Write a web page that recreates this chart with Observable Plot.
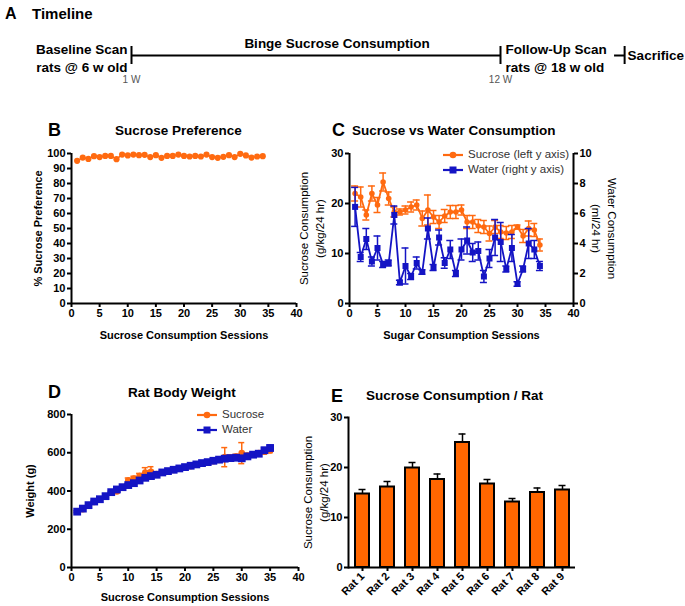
<!DOCTYPE html>
<html><head><meta charset="utf-8">
<script src="https://cdn.jsdelivr.net/npm/d3@7"></script>
<script src="https://cdn.jsdelivr.net/npm/@observablehq/plot@0.6"></script>
<style>
body{margin:0;background:#fff;}
#root{position:relative;width:685px;height:606px;font-family:"Liberation Sans",Arial,sans-serif;overflow:hidden;background:#fff;}
.abs{position:absolute;line-height:1;white-space:nowrap;color:#000;}
.bold{font-weight:bold;}
.legend{display:flex;align-items:center;font-size:11.5px;color:#333;}
.legend svg{margin-right:5px;}
</style></head><body><div id="root"></div>
<script>
// ---------- DATA ----------
const timelineEvents = ["Baseline Scan\nrats @ 6 w old", "Follow-Up Scan\nrats @ 18 w old", "Sacrifice"];
const timelineWeeks = [1, 12, 15.7];
const timelineSegStart = [1, 15.4];
const timelineSegEnd = [12, 15.7];
const weekLabels = ["1 W", "12 W"];
const weekLabelWeeks = [1, 12];

const sessionTicks = [0, 5, 10, 15, 20, 25, 30, 35, 40];
const prefTicks = [0, 10, 20, 30, 40, 50, 60, 70, 80, 90, 100];
const sucroseTicks = [0, 10, 20, 30];
const waterTicks = [0, 2, 4, 6, 8, 10];
const weightTicks = [0, 200, 400, 600, 800];

const sessions34 = [1,2,3,4,5,6,7,8,9,10,11,12,13,14,15,16,17,18,19,20,21,22,23,24,25,26,27,28,29,30,31,32,33,34];
const sessions35 = [1,2,3,4,5,6,7,8,9,10,11,12,13,14,15,16,17,18,19,20,21,22,23,24,25,26,27,28,29,30,31,32,33,34,35];

// B: % sucrose preference
const prefValues = [95.1,97.3,96.4,98.2,97.6,98.4,98.4,96.2,99.3,98.7,99.3,98.9,99.1,97.6,98.9,97.1,98.4,98.4,99.3,98.4,98.0,98.4,98.0,99.3,97.6,97.1,97.8,98.9,97.6,99.8,98.7,97.3,98.0,98.2];

// C: sucrose (g/kg/24hr, left) and water (ml/24hr, right)
const sucroseMean = [22.0,21.3,17.7,22.0,19.7,24.3,21.0,18.3,18.3,18.7,19.3,19.7,17.0,18.7,17.3,16.3,17.5,18.3,18.3,18.7,16.3,16.3,15.5,15.3,14.0,15.3,14.3,14.1,14.3,15.3,13.5,15.0,14.7,11.7];
const sucroseSem = [1.5,2.0,1.0,1.5,1.5,1.8,1.3,1.0,0.6,0.8,1.0,1.0,1.5,3.0,1.3,1.3,1.3,1.3,1.3,1.0,1.3,1.3,1.3,1.3,1.5,1.3,1.3,1.3,1.3,0.4,1.3,1.5,1.3,1.2];
const waterMean = [6.44,3.1,4.3,2.8,3.7,2.6,2.7,5.9,1.4,2.5,1.8,2.7,2.1,5.0,2.4,4.4,2.7,3.6,2.0,3.6,4.2,3.4,3.5,1.8,3.0,4.4,4.1,2.3,3.7,1.3,2.3,4.0,3.6,2.5];
const waterSem = [1.3,0.3,0.7,0.3,0.8,0.2,0.2,0.6,0.15,1.2,0.2,0.4,0.15,0.7,0.2,0.5,0.35,0.6,0.2,0.7,0.9,0.6,0.6,0.4,0.6,1.2,1.3,0.2,0.9,0.15,0.2,1.0,0.6,0.3];

// D: body weight (g)
const sucroseWeight = [292,305,325,343,357,372,392,398,420,455,465,478,497,500,488,498,503,510,516,524,530,537,545,550,556,562,577,575,580,598,585,592,598,605,612];
const sucroseWeightSem = [5,5,5,5,5,6,6,8,8,13,12,14,25,27,8,8,8,8,8,8,8,8,8,10,10,10,50,12,12,55,12,12,12,12,12];
const waterWeight = [292,308,326,345,357,373,394,408,420,431,441,455,469,478,485,497,504,511,518,525,532,539,546,551,558,564,569,572,574,571,581,590,595,613,625];
const waterWeightSem = [5,5,5,5,5,5,5,5,5,6,6,6,6,6,6,6,6,6,6,6,6,6,6,6,6,7,7,7,7,10,8,8,10,14,14];

// E: sucrose consumption per rat
const rats = ["Rat 1","Rat 2","Rat 3","Rat 4","Rat 5","Rat 6","Rat 7","Rat 8","Rat 9"];
const ratMeans = [14.7,16.1,19.9,17.6,25.0,16.7,13.1,15.0,15.5];
const ratSem = [0.9,1.1,1.1,1.1,1.7,0.9,0.7,0.9,0.9];

// ---------- STYLE ----------
const ORANGE = "#ff6a10";
const BAR = "#ff6600";
const BLUE = "#1414c4";
const FONT = "'Liberation Sans', Arial, sans-serif";
const root = document.getElementById("root");
const baseStyle = {fontFamily: FONT, fontSize: "11px", fontWeight: "bold", color: "#000", background: "transparent", overflow: "visible"};

function place(el, left, top) {
  el.style.position = "absolute";
  el.style.left = left + "px";
  el.style.top = top + "px";
  root.appendChild(el);
  return el;
}
function label(text, left, top, size, bold = true) {
  const d = document.createElement("div");
  d.className = "abs" + (bold ? " bold" : "");
  d.style.fontSize = size + "px";
  d.textContent = text;
  return place(d, left, top);
}
function legendItem(color, symbol, text, left, top) {
  const d = document.createElement("div");
  d.className = "abs legend";
  const mark = symbol === "circle"
    ? `<circle cx="10" cy="6" r="3.3" fill="${color}"/>`
    : `<rect x="6.5" y="2.5" width="7" height="7" fill="${color}"/>`;
  d.innerHTML = `<svg width="20" height="12"><line x1="0" y1="6" x2="20" y2="6" stroke="${color}" stroke-width="2.2"/>${mark}</svg><span>${text}</span>`;
  return place(d, left, top);
}
const axisOpts = {tickSize: 4, tickPadding: 2, strokeWidth: 2, label: null};

// ---------- PANEL A ----------
const tlEvents = timelineEvents.map((t, i) => ({text: t, week: timelineWeeks[i]}));
const tlSegs = timelineSegStart.map((s, i) => ({start: s, end: timelineSegEnd[i]}));
const tlWeeks = weekLabels.map((t, i) => ({text: t, week: weekLabelWeeks[i]}));
const plotA = Plot.plot({
  width: 685, height: 60, marginLeft: 131, marginRight: 185, marginTop: 16, marginBottom: 26,
  style: {...baseStyle, fontSize: "13.5px"},
  x: {domain: [1, 12], axis: null},
  y: {domain: [0, 1], axis: null},
  marks: [
    Plot.ruleY(tlSegs, {x1: "start", x2: "end", y: 0.5, strokeWidth: 2}),
    Plot.tickX(tlEvents, {x: "week", strokeWidth: 2}),
    Plot.text([tlEvents[0]], {x: "week", y: 0.5, text: "text", textAnchor: "end", dx: -4, dy: 2, lineHeight: 1.33}),
    Plot.text([tlEvents[1]], {x: "week", y: 0.5, text: "text", textAnchor: "start", dx: 5, dy: 2, lineHeight: 1.33}),
    Plot.text([tlEvents[2]], {x: "week", y: 0.5, text: "text", textAnchor: "start", dx: 3}),
    Plot.text(["Binge Sucrose Consumption"], {x: 6.5, frameAnchor: "top", dy: -3, dx: 21, lineAnchor: "middle", textAnchor: "middle"}),
    Plot.text(tlWeeks, {x: "week", text: "text", frameAnchor: "bottom", dy: 15, lineAnchor: "middle", fontSize: 10, fontWeight: "normal", fill: "#555"})
  ]
});
place(plotA, 0, 30);
label("A", 5, 6, 16);
label("Timeline", 32, 6, 15);

// ---------- PANEL B ----------
const prefData = sessions34.map((s, i) => ({s, v: prefValues[i]}));
const plotB = Plot.plot({
  width: 310, height: 210, marginLeft: 71, marginRight: 14, marginTop: 13, marginBottom: 47,
  style: baseStyle,
  x: {domain: [0, 40]}, y: {domain: [0, 100]},
  marks: [
    Plot.axisX(sessionTicks, axisOpts),
    Plot.axisY(prefTicks, axisOpts),
    Plot.ruleX([0], {strokeWidth: 2}),
    Plot.ruleY([0], {strokeWidth: 2}),
    Plot.line(prefData, {x: "s", y: "v", stroke: ORANGE, strokeWidth: 1.5}),
    Plot.dot(prefData, {x: "s", y: "v", fill: ORANGE, r: 3.1}),
    Plot.text(["Sucrose Consumption Sessions"], {frameAnchor: "bottom", dy: 32, lineAnchor: "middle", textAnchor: "middle", fontSize: 11}),
    Plot.text(["% Sucrose Preference"], {frameAnchor: "left", dx: -33, rotate: -90, lineAnchor: "middle", textAnchor: "middle", fontSize: 11})
  ]
});
place(plotB, 0, 140);
label("B", 48, 121, 18);
label("Sucrose Preference", 115, 124, 13.5);

// ---------- PANEL C ----------
const cSuc = sessions34.map((s, i) => ({s, v: sucroseMean[i], lo: sucroseMean[i] - sucroseSem[i], hi: sucroseMean[i] + sucroseSem[i]}));
const cWat = sessions34.map((s, i) => ({s, v: waterMean[i], lo: waterMean[i] - waterSem[i], hi: waterMean[i] + waterSem[i]}));
const cGeom = {width: 340, height: 210, marginLeft: 59, marginRight: 57, marginTop: 13, marginBottom: 47};
const errMarks = (data, color, cap) => [
  Plot.ruleX(data, {x: "s", y1: "lo", y2: "hi", stroke: color, strokeWidth: 1.5}),
  Plot.ruleY(data, {y: "hi", x1: "s", x2: "s", insetLeft: -cap, insetRight: -cap, stroke: color, strokeWidth: 1.5}),
  Plot.ruleY(data, {y: "lo", x1: "s", x2: "s", insetLeft: -cap, insetRight: -cap, stroke: color, strokeWidth: 1.5})
];
const plotC = Plot.plot({
  ...cGeom,
  style: baseStyle,
  x: {domain: [0, 40]}, y: {domain: [0, 30]},
  marks: [
    Plot.axisX(sessionTicks, axisOpts),
    Plot.axisY(sucroseTicks, axisOpts),
    Plot.ruleX([0], {strokeWidth: 2}),
    Plot.ruleX([40], {strokeWidth: 2}),
    Plot.ruleY([0], {strokeWidth: 2}),
    ...errMarks(cSuc, ORANGE, 3.5),
    Plot.line(cSuc, {x: "s", y: "v", stroke: ORANGE, strokeWidth: 1.8}),
    Plot.dot(cSuc, {x: "s", y: "v", fill: ORANGE, r: 2.8}),
    Plot.text(["Sugar Consumption Sessions"], {frameAnchor: "bottom", dy: 32, lineAnchor: "middle", textAnchor: "middle", fontSize: 11}),
    Plot.text(["Sucrose Consumption\n(g/kg/24 hr)"], {frameAnchor: "left", dx: -39, rotate: -90, lineAnchor: "middle", textAnchor: "middle", fontSize: 11.5, fontWeight: "normal", lineHeight: 1.4})
  ]
});
place(plotC, 290, 140);
const plotC2 = Plot.plot({
  ...cGeom,
  style: baseStyle,
  x: {domain: [0, 40], axis: null}, y: {domain: [0, 10]},
  marks: [
    Plot.axisY(waterTicks, {...axisOpts, anchor: "right"}),
    ...errMarks(cWat, BLUE, 3.5),
    Plot.line(cWat, {x: "s", y: "v", stroke: BLUE, strokeWidth: 1.8}),
    Plot.dot(cWat, {x: "s", y: "v", fill: BLUE, symbol: "square", r: 3.4}),
    Plot.text(["Water Consumption\n(ml/24 hr)"], {frameAnchor: "right", dx: 32, rotate: 90, lineAnchor: "middle", textAnchor: "middle", fontSize: 11.5, fontWeight: "normal", lineHeight: 1.4})
  ]
});
place(plotC2, 290, 140);
legendItem(ORANGE, "circle", "Sucrose (left y axis)", 443, 149);
legendItem(BLUE, "square", "Water (right y axis)", 443, 164);
label("C", 332, 121, 18);
label("Sucrose vs Water Consumption", 352, 124, 13.5);

// ---------- PANEL D ----------
const dSuc = sessions35.map((s, i) => ({s, v: sucroseWeight[i], lo: sucroseWeight[i] - sucroseWeightSem[i], hi: sucroseWeight[i] + sucroseWeightSem[i]}));
const dWat = sessions35.map((s, i) => ({s, v: waterWeight[i], lo: waterWeight[i] - waterWeightSem[i], hi: waterWeight[i] + waterWeightSem[i]}));
const plotD = Plot.plot({
  width: 310, height: 206, marginLeft: 71, marginRight: 12, marginTop: 14, marginBottom: 39,
  style: baseStyle,
  x: {domain: [0, 40]}, y: {domain: [0, 800]},
  marks: [
    Plot.axisX(sessionTicks, axisOpts),
    Plot.axisY(weightTicks, axisOpts),
    Plot.ruleX([0], {strokeWidth: 2}),
    Plot.ruleY([0], {strokeWidth: 2}),
    ...errMarks(dSuc, ORANGE, 3),
    Plot.line(dSuc, {x: "s", y: "v", stroke: ORANGE, strokeWidth: 2}),
    Plot.dot(dSuc, {x: "s", y: "v", fill: ORANGE, r: 3.3}),
    ...errMarks(dWat, BLUE, 3),
    Plot.line(dWat, {x: "s", y: "v", stroke: BLUE, strokeWidth: 3}),
    Plot.dot(dWat, {x: "s", y: "v", fill: BLUE, symbol: "square", r: 4.4}),
    Plot.text(["Sucrose Consumption Sessions"], {frameAnchor: "bottom", dy: 30, lineAnchor: "middle", textAnchor: "middle", fontSize: 11}),
    Plot.text(["Weight (g)"], {frameAnchor: "left", dx: -41, rotate: -90, lineAnchor: "middle", textAnchor: "middle", fontSize: 11})
  ]
});
place(plotD, 0, 400);
legendItem(ORANGE, "circle", "Sucrose", 197, 409);
legendItem(BLUE, "square", "Water", 197, 424);
label("D", 48, 383, 18);
label("Rat Body Weight", 128, 386, 13.5);

// ---------- PANEL E ----------
const eData = rats.map((r, i) => ({rat: r, v: ratMeans[i], hi: ratMeans[i] + ratSem[i]}));
const plotE = Plot.plot({
  width: 300, height: 206, marginLeft: 58, marginRight: 15, marginTop: 17, marginBottom: 39,
  style: baseStyle,
  x: {domain: rats, paddingInner: 0.46, paddingOuter: 0.27},
  y: {domain: [0, 30]},
  marks: [
    Plot.axisX({...axisOpts, tickRotate: -45, tickPadding: 3}),
    Plot.axisY(sucroseTicks, axisOpts),
    Plot.ruleX(eData, {x: "rat", y1: "v", y2: "hi", strokeWidth: 1.5}),
    Plot.tickY(eData, {x: "rat", y: "hi", strokeWidth: 1.5, inset: 3.5}),
    Plot.barY(eData, {x: "rat", y: "v", fill: BAR, stroke: "#000", strokeWidth: 2}),
    Plot.frame({anchor: "left", strokeWidth: 2}),
    Plot.ruleY([0], {strokeWidth: 2}),
    Plot.text(["Sucrose Consumption\n(g/kg/24 hr)"], {frameAnchor: "left", dx: -34, rotate: -90, lineAnchor: "middle", textAnchor: "middle", fontSize: 11.5, fontWeight: "normal", lineHeight: 1.4})
  ]
});
place(plotE, 290, 400);
label("E", 331, 387, 18);
label("Sucrose Consumption / Rat", 366, 389, 13.5);
</script>
</body></html>
